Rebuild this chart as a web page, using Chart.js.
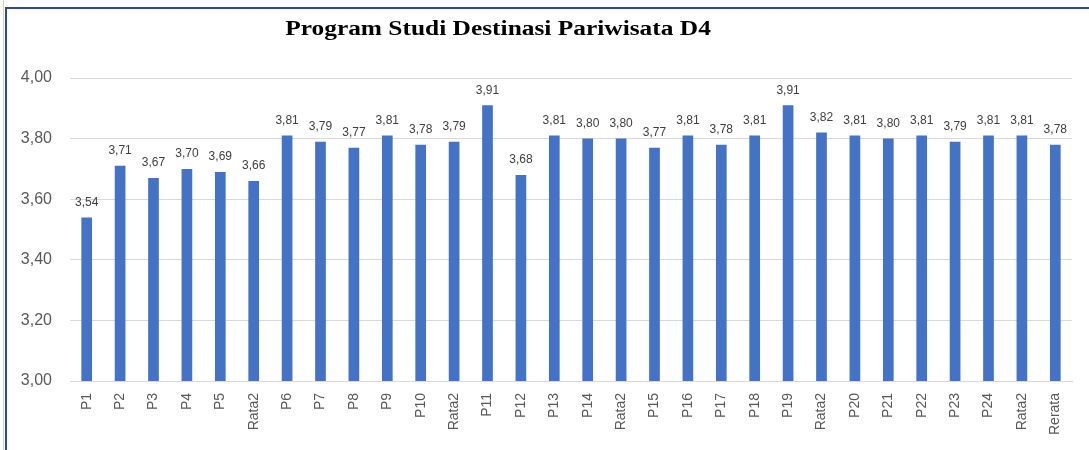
<!DOCTYPE html>
<html>
<head>
<meta charset="utf-8">
<script src="https://cdn.jsdelivr.net/npm/chart.js@4"></script>
<style>
    html, body { margin: 0; padding: 0; background: #fff; }
    #wrap { position: relative; width: 1089px; height: 450px; overflow: hidden; }
    #sheet-line { position: absolute; left: 3px; top: 0; width: 1px; height: 450px; background: #d4d4d4; }
    #frame { position: absolute; left: 5px; top: 7px; right: -4px; bottom: -4px; border-top: 2px solid #2f4b8f; border-left: 2px solid #2f4b8f; }
    #chart-title { position: absolute; left: 0; top: 16px; width: 996px; text-align: center;
        font: bold 20px "Liberation Serif", "Times New Roman", serif; color: #000; line-height: 24px;
        transform: scaleX(1.27); transform-origin: 498px 0; }
    canvas { position: absolute; left: 0; top: 0; }
</style>
</head>
<body>
<div id="wrap">
    <div id="sheet-line"></div>
    <div id="frame"></div>
    <canvas id="chart" width="1089" height="450"></canvas>
    <div id="chart-title">Program Studi Destinasi Pariwisata D4</div>
</div>
<script>
// --- Data ---
const categories = ['P1', 'P2', 'P3', 'P4', 'P5', 'Rata2', 'P6', 'P7', 'P8', 'P9', 'P10', 'Rata2',
    'P11', 'P12', 'P13', 'P14', 'Rata2', 'P15', 'P16', 'P17', 'P18', 'P19', 'Rata2',
    'P20', 'P21', 'P22', 'P23', 'P24', 'Rata2', 'Rerata'];
const scores = [3.54, 3.71, 3.67, 3.70, 3.69, 3.66, 3.81, 3.79, 3.77, 3.81, 3.78, 3.79,
    3.91, 3.68, 3.81, 3.80, 3.80, 3.77, 3.81, 3.78, 3.81, 3.91, 3.82,
    3.81, 3.80, 3.81, 3.79, 3.81, 3.81, 3.78];
const yTicks = [3.00, 3.20, 3.40, 3.60, 3.80, 4.00];

const fmt = v => v.toFixed(2).replace('.', ',');

// draw the value above each bar, Excel style
const valueLabels = {
    id: 'valueLabels',
    afterDatasetsDraw(chart) {
        const ctx = chart.ctx;
        const meta = chart.getDatasetMeta(0);
        ctx.save();
        ctx.font = '12px "Liberation Sans", Arial, sans-serif';
        ctx.fillStyle = '#404040';
        ctx.textAlign = 'center';
        ctx.textBaseline = 'bottom';
        meta.data.forEach((bar, i) => {
            ctx.fillText(fmt(scores[i]), bar.x, bar.y - 9);
        });
        ctx.restore();
    }
};

new Chart(document.getElementById('chart'), {
    type: 'bar',
    data: {
        labels: categories,
        datasets: [{
            data: scores,
            backgroundColor: '#4472c4',
            barPercentage: 0.64,
            categoryPercentage: 0.5
        }]
    },
    options: {
        responsive: false,
        animation: false,
        layout: { padding: { left: 10, right: 17, top: 78, bottom: 0 } },
        plugins: {
            legend: { display: false },
            tooltip: { enabled: false }
        },
        scales: {
            x: {
                grid: { display: false },
                border: { color: '#d9d9d9' },
                ticks: {
                    color: '#595959',
                    font: { family: '"Liberation Sans", Arial, sans-serif', size: 14 },
                    minRotation: 90,
                    maxRotation: 90,
                    autoSkip: false,
                    padding: 4
                },
                afterFit: s => { s.height = 69; }
            },
            y: {
                min: 3,
                max: 4,
                afterBuildTicks: s => { s.ticks = yTicks.map(v => ({ value: v })); },
                grid: { color: '#d9d9d9', drawTicks: false },
                border: { display: false },
                ticks: {
                    color: '#595959',
                    font: { family: '"Liberation Sans", Arial, sans-serif', size: 16 },
                    padding: 18,
                    callback: v => fmt(v)
                },
                afterFit: s => { s.width = 60; }
            }
        }
    },
    plugins: [valueLabels]
});
</script>
</body>
</html>
